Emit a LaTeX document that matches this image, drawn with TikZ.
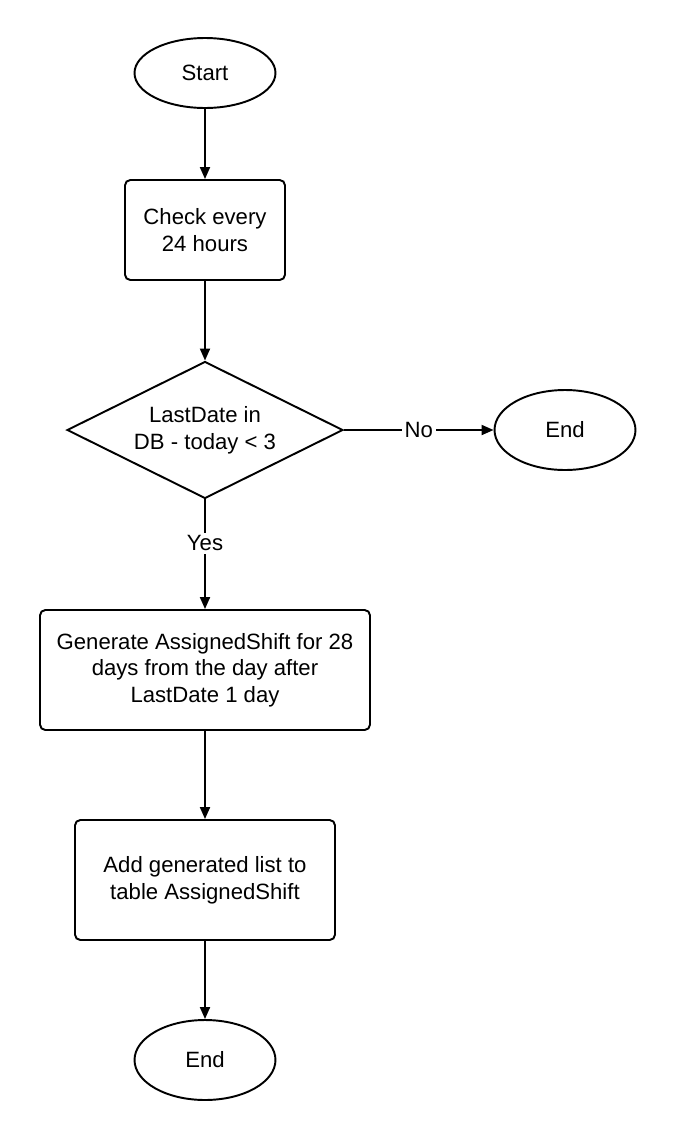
\documentclass[tikz,border=0pt]{standalone}
\usepackage{fontspec}
\setmainfont{Liberation Sans}
\usepackage{tikz}
\usetikzlibrary{arrows.meta,shapes,positioning,calc}

\begin{document}
\begin{tikzpicture}[
    x=0.02cm, y=-0.02cm,
    font=\fontsize{12.6}{15.2}\selectfont, >={Triangle[length=0.24cm, width=0.2cm]},
    tnode/.style={ellipse, draw, line width=1.1pt, minimum width=2.82cm, minimum height=1.6cm, inner sep=0pt},
    pnode/.style={rectangle, draw, line width=1.1pt, rounded corners=3pt, minimum height=2.4cm, align=center, inner sep=2pt},
    dnode/.style={diamond, draw, line width=1.1pt, aspect=2, minimum width=5.52cm, minimum height=2.74cm, align=center, inner sep=0pt},
    flow/.style={->, line width=1.1pt},
    lbl/.style={fill=white, inner sep=1.5pt}
]
    \useasboundingbox (0,0) rectangle (675,1140);
    % main column
    \node[tnode, minimum height=1.4cm] (start) at (205,73) {Start};
    \node[pnode, minimum width=3.2cm, minimum height=2cm] (check) at (205,230) {Check every\\24 hours};
    \node[dnode] (test) at (205,430) {LastDate in\\DB - today < 3};
    \node[tnode] (endno) at (565,430) {End};
    \node[pnode, minimum width=6.6cm] (gen) at (205,670) {Generate AssignedShift for 28\\days from the day after\\LastDate 1 day};
    \node[pnode, minimum width=5.2cm] (add) at (205,880) {Add generated list to\\table AssignedShift};
    \node[tnode] (endyes) at (205,1060) {End};
    % connectors
    \draw[flow] (start) -- (check);
    \draw[flow] (check) -- (test);
    \draw[flow] (test.east) -- node[lbl, pos=0.5] {No} (endno);
    \draw[flow] (test.south) -- node[lbl, pos=0.4] {Yes} (gen);
    \draw[flow] (gen) -- (add);
    \draw[flow] (add) -- (endyes);
\end{tikzpicture}
\end{document}
